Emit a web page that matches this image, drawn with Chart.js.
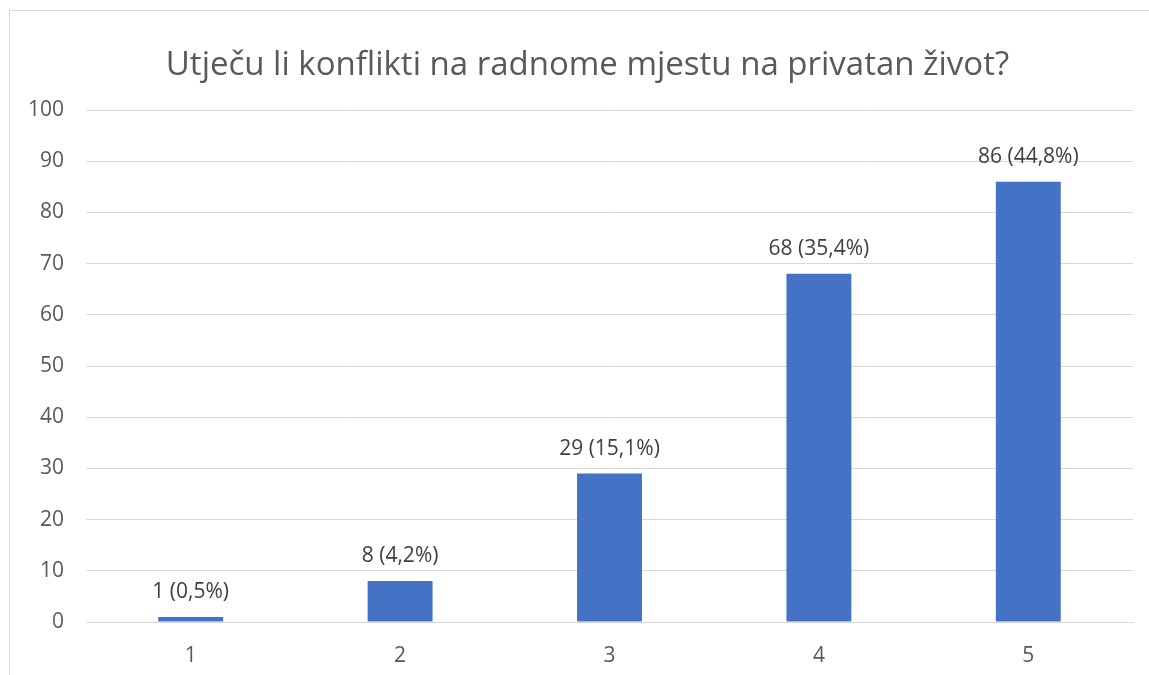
<!DOCTYPE html>
<html>
<head>
<meta charset="utf-8">
<script src="https://cdn.jsdelivr.net/npm/chart.js@4"></script>
<style>
  html, body { margin: 0; padding: 0; background: #fff; overflow: hidden; }
  #wrap { position: relative; width: 1149px; height: 675px; }
  #frame { position: absolute; left: 9px; top: 10px; width: 1200px; height: 700px; border: 1px solid #d9d9d9; }
  #title {
    position: absolute; left: 10px; top: 43px; width: 1155px;
    text-align: center; line-height: 40px; font-size: 33px;
    font-family: 'Open Sans', 'Liberation Sans', sans-serif; color: #595959;
    white-space: nowrap;
  }
  canvas { position: absolute; left: 0; top: 0; }
</style>
</head>
<body>
<div id="wrap">
  <div id="frame"></div>
  <canvas id="chart" width="1149" height="675"></canvas>
  <div id="title">Utječu li konflikti na radnome mjestu na privatan život?</div>
</div>
<script>
const categories = ["1", "2", "3", "4", "5"];
const counts = [1, 8, 29, 68, 86];
const percents = ["0,5%", "4,2%", "15,1%", "35,4%", "44,8%"];
const yTicks = [0, 10, 20, 30, 40, 50, 60, 70, 80, 90, 100];

const font = "'Open Sans', 'Liberation Sans', sans-serif";

// draws "n (p%)" above every bar
const barLabels = {
  id: "barLabels",
  afterDatasetsDraw(chart) {
    const ctx = chart.ctx;
    const meta = chart.getDatasetMeta(0);
    ctx.save();
    ctx.font = "21px " + font;
    ctx.fillStyle = "#404040";
    ctx.textAlign = "center";
    ctx.textBaseline = "middle";
    meta.data.forEach((bar, i) => {
      ctx.fillText(counts[i] + " (" + percents[i] + ")", bar.x, bar.y - 25);
    });
    ctx.restore();
  },
};

new Chart(document.getElementById("chart"), {
  type: "bar",
  data: {
    labels: categories,
    datasets: [
      {
        data: counts,
        backgroundColor: "#4472C4",
        categoryPercentage: 1,
        barPercentage: 0.31,
      },
    ],
  },
  options: {
    responsive: false,
    animation: false,
    layout: { padding: { left: 20, right: 16, top: 110, bottom: 0 } },
    plugins: {
      legend: { display: false },
      tooltip: { enabled: false },
    },
    scales: {
      x: {
        grid: { display: false },
        border: { color: "#d9d9d9" },
        ticks: { color: "#595959", font: { family: font, size: 21 }, padding: 13 },
        afterFit(scale) { scale.height = 53; },
      },
      y: {
        min: 0,
        max: 100,
        afterBuildTicks(scale) { scale.ticks = yTicks.map((v) => ({ value: v })); },
        grid: { color: "#d9d9d9", drawTicks: false },
        border: { display: false },
        ticks: { color: "#595959", font: { family: font, size: 21 }, padding: 22 },
        afterFit(scale) { scale.width = 66; },
      },
    },
  },
  plugins: [barLabels],
});
</script>
</body>
</html>
